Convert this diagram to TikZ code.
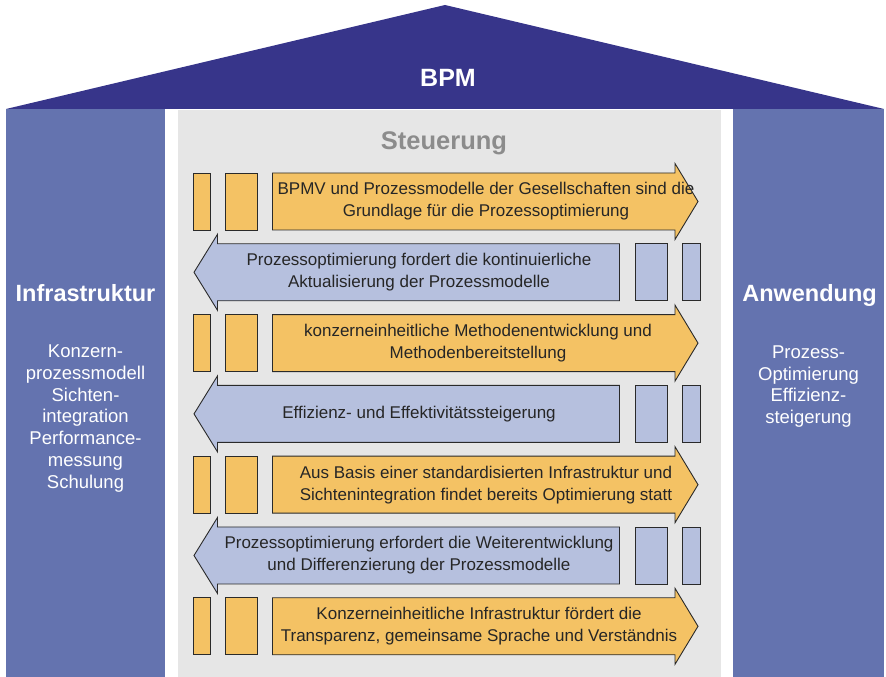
\documentclass[tikz,border=0pt]{standalone}
\usepackage{fontspec}
\setmainfont{Liberation Sans}
\usepackage{tikz}
\usetikzlibrary{positioning}
\definecolor{roofblue}{HTML}{37358A}
\definecolor{pillarblue}{HTML}{6473AF}
\definecolor{hallgray}{HTML}{E6E6E6}
\definecolor{boxorange}{HTML}{F4C264}
\definecolor{boxblue}{HTML}{B6C0DE}
\definecolor{edgegray}{HTML}{2A2A2A}
\definecolor{titlegray}{HTML}{8C8C8C}
\tikzstyle{pillartitle} = [font=\fontsize{23.5}{26}\selectfont\bfseries, text=white, inner sep=0pt, anchor=base]
\tikzstyle{pillartext} = [font=\fontsize{18.5}{21.8}\selectfont, text=white, align=center, inner sep=0pt]
\tikzstyle{rowtext} = [font=\fontsize{17}{22}\selectfont, text=black!85, align=center, inner sep=0pt]
\tikzstyle{obox} = [rectangle, draw=edgegray, fill=boxorange, line width=0.9pt, minimum height=57pt, inner sep=0pt]
\tikzstyle{bbox} = [rectangle, draw=edgegray, fill=boxblue, line width=0.9pt, minimum height=57pt, inner sep=0pt]
\tikzstyle{oarrow} = [draw=edgegray, fill=boxorange, line width=0.9pt, line join=miter]
\tikzstyle{barrow} = [draw=edgegray, fill=boxblue, line width=0.9pt, line join=miter]

\begin{document}
\begin{tikzpicture}[x=1pt, y=1pt]
\useasboundingbox (0,0) rectangle (886,677);

% house
\fill [roofblue] (6,568) -- (445,672) -- (884,568) -- cycle;
\fill [pillarblue] (6,0) rectangle (165,568);
\fill [pillarblue] (733,0) rectangle (884,568);
\fill [hallgray] (178,0) rectangle (721,567);

\node (bpm) [font=\fontsize{25}{28}\selectfont\bfseries, text=white, inner sep=0pt, anchor=base] at (448,590.3) {BPM};
\node (steuerung) [font=\fontsize{25.5}{28}\selectfont\bfseries, text=titlegray, inner sep=0pt, anchor=base] at (444,527) {Steuerung};

\node (infra) [pillartitle] at (85.5,375.3) {Infrastruktur};
\node (infratext) [pillartext] at (85.5,258.6) {Konzern-\\prozessmodell\\Sichten-\\integration\\Performance-\\messung\\Schulung};
\node (anw) [pillartitle] at (809.5,375) {Anwendung};
\node (anwtext) [pillartext] at (808.5,290.5) {Prozess-\\Optimierung\\Effizienz-\\steigerung};

% row 1
\node (o1a) [obox, minimum width=17.5pt] at (201.75,475.5) {};
\node (o1b) [obox, minimum width=32pt, right=14pt of o1a] {};
\draw [oarrow] (272.5,504) -- ++(402.5,0) -- ++(0,9.5) -- ++(23,-38) -- ++(-23,-38) -- ++(0,9.5) -- ++(-402.5,0) -- cycle;
\node (t1) [rowtext] at (486,475.5) {BPMV und Prozessmodelle der Gesellschaften sind die\\Grundlage für die Prozessoptimierung};

% row 2
\node (b2a) [bbox, minimum width=32pt] at (651.5,404.7) {};
\node (b2b) [bbox, minimum width=18pt, right=14pt of b2a] {};
\draw [barrow] (619.5,433.2) -- ++(-402,0) -- ++(0,9.5) -- ++(-23.5,-38) -- ++(23.5,-38) -- ++(0,9.5) -- ++(402,0) -- cycle;
\node (t2) [rowtext] at (419,404.7) {Prozessoptimierung fordert die kontinuierliche\\Aktualisierung der Prozessmodelle};

% row 3
\node (o3a) [obox, minimum width=17.5pt] at (201.75,333.9) {};
\node (o3b) [obox, minimum width=32pt, right=14pt of o3a] {};
\draw [oarrow] (272.5,362.4) -- ++(402.5,0) -- ++(0,9.5) -- ++(23,-38) -- ++(-23,-38) -- ++(0,9.5) -- ++(-402.5,0) -- cycle;
\node (t3) [rowtext] at (478,333.9) {konzerneinheitliche Methodenentwicklung und\\Methodenbereitstellung};

% row 4
\node (b4a) [bbox, minimum width=32pt] at (651.5,263.1) {};
\node (b4b) [bbox, minimum width=18pt, right=14pt of b4a] {};
\draw [barrow] (619.5,291.6) -- ++(-402,0) -- ++(0,9.5) -- ++(-23.5,-38) -- ++(23.5,-38) -- ++(0,9.5) -- ++(402,0) -- cycle;
\node (t4) [rowtext] at (419,263.1) {Effizienz- und Effektivitätssteigerung};

% row 5
\node (o5a) [obox, minimum width=17.5pt] at (201.75,192.3) {};
\node (o5b) [obox, minimum width=32pt, right=14pt of o5a] {};
\draw [oarrow] (272.5,220.8) -- ++(402.5,0) -- ++(0,9.5) -- ++(23,-38) -- ++(-23,-38) -- ++(0,9.5) -- ++(-402.5,0) -- cycle;
\node (t5) [rowtext] at (486,192.3) {Aus Basis einer standardisierten Infrastruktur und\\Sichtenintegration findet bereits Optimierung statt};

% row 6
\node (b6a) [bbox, minimum width=32pt] at (651.5,121.5) {};
\node (b6b) [bbox, minimum width=18pt, right=14pt of b6a] {};
\draw [barrow] (619.5,150) -- ++(-402,0) -- ++(0,9.5) -- ++(-23.5,-38) -- ++(23.5,-38) -- ++(0,9.5) -- ++(402,0) -- cycle;
\node (t6) [rowtext] at (419,121.5) {Prozessoptimierung erfordert die Weiterentwicklung\\und Differenzierung der Prozessmodelle};

% row 7
\node (o7a) [obox, minimum width=17.5pt] at (201.75,50.7) {};
\node (o7b) [obox, minimum width=32pt, right=14pt of o7a] {};
\draw [oarrow] (272.5,79.2) -- ++(402.5,0) -- ++(0,9.5) -- ++(23,-38) -- ++(-23,-38) -- ++(0,9.5) -- ++(-402.5,0) -- cycle;
\node (t7) [rowtext] at (479,50.7) {Konzerneinheitliche Infrastruktur fördert die\\Transparenz, gemeinsame Sprache und Verständnis};
\end{tikzpicture}
\end{document}
